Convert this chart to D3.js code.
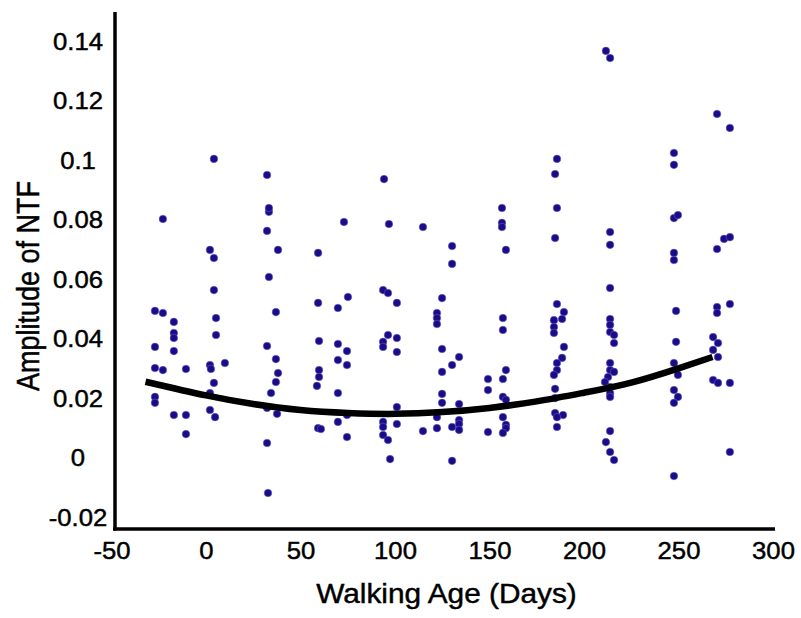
<!DOCTYPE html>
<html>
<head>
<meta charset="utf-8">
<script src="https://cdn.jsdelivr.net/npm/d3@7"></script>
<style>
  body { margin: 0; background: #fff; }
  svg text { font-family: "Liberation Sans", Arial, Helvetica, sans-serif; fill: #000; stroke: #000; stroke-width: 0.45px; }
</style>
</head>
<body>
<div id="chart"></div>
<script>
// scatter values
const walkingAge = [
  -22.8, -27, -22.8, -27, -27, -22.8, -27, -27,
  -17, -17, -17, -17, -17,
  -10.6, -10.6, -10.6,
  4.2, 2.1, 4.2, 4.2, 5.3, 5.3, 2.1, 2.6, 4.2, 2.1, 2.1, 4.8, 10,
  32.3, 33.3, 33.3, 32.3, 38.1, 33.3, 37, 32.3, 37, 38.1, 37, 34.4, 32.3, 37.6, 32.3, 32.8,
  59.3, 59.3, 59.8, 59.8, 59.8, 58.7, 59.3, 60.8,
  73, 75.1, 69.8, 69.8, 74.6, 69.8, 74.6, 69.8, 74.6, 69.8, 74.6,
  94.2, 96.8, 93.7, 96.3, 101, 96.3, 93.7, 93.7, 101, 101, 101, 93.7, 93.7, 101, 93.7, 96.3, 97.4,
  114.8, 114.8,
  124.9, 122.2, 122.2, 122.2, 124.9, 124.9, 124.9, 124.9, 122.2, 122.2,
  130.2, 130.2, 133.9, 130.2, 133.9, 133.9, 133.9, 130.2, 133.9, 130.2,
  156.6, 156.6, 156.6, 158.7, 157.1, 157.1, 149.2, 149.2, 158.7, 157.1, 157.1, 158.7, 157.1, 158.7, 158.7, 157.1, 149.2,
  185.7, 184.7, 185.7, 184.7, 185.7, 189.4, 184.1, 188.4, 184.1, 184.1, 189.4, 188.4, 185.7, 185.7, 184.1, 184.7, 184.7, 184.7, 188.9, 185.7, 185.7,
  211.6, 213.8, 213.8, 213.8, 213.8, 213.8, 213.8, 213.8, 215.9, 215.9, 213.8, 213.8, 215.9, 212.7, 211.1, 213.8, 213.8, 213.8, 213.8, 211.6, 213.8, 215.9,
  247.6, 247.6, 247.6, 249.7, 247.6, 247.6, 248.7, 248.7, 247.6, 249.7, 247.6, 249.7, 247.6, 247.6,
  270.4, 277.2, 270.4, 274.1, 277.2, 270.4, 270.4, 277.2, 268.3, 270.9, 268.3, 270.9, 268.3, 270.9, 277.2, 277.2
];
const amplitude = [
  0.0800, 0.0491, 0.0484, 0.0370, 0.0299, 0.0292, 0.0202, 0.0182,
  0.0454, 0.0417, 0.0400, 0.0356, 0.0141,
  0.0296, 0.0141, 0.0077,
  0.1002, 0.0696, 0.0669, 0.0561, 0.0467, 0.0410, 0.0309, 0.0296, 0.0249, 0.0215, 0.0158, 0.0134, 0.0316,
  0.0948, 0.0824, 0.0837, 0.0760, 0.0696, 0.0605, 0.0487, 0.0373, 0.0329, 0.0282, 0.0252, 0.0215, 0.0165, 0.0145, 0.0047, -0.0121,
  0.0686, 0.0518, 0.0390, 0.0292, 0.0269, 0.0239, 0.0097, 0.0094,
  0.0790, 0.0538, 0.0501, 0.0380, 0.0356, 0.0326, 0.0309, 0.0215, 0.0141, 0.0118, 0.0067,
  0.0934, 0.0783, 0.0561, 0.0551, 0.0518, 0.0410, 0.0387, 0.0370, 0.0400, 0.0353, 0.0168, 0.0118, 0.0101, 0.0111, 0.0074, 0.0057, -0.0007,
  0.0773, 0.0087,
  0.0534, 0.0484, 0.0467, 0.0447, 0.0363, 0.0286, 0.0212, 0.0182, 0.0134, 0.0097,
  0.0709, 0.0649, 0.0336, 0.0309, 0.0178, 0.0124, 0.0111, 0.0101, 0.0091, -0.0013,
  0.0837, 0.0787, 0.0773, 0.0696, 0.0467, 0.0427, 0.0262, 0.0225, 0.0292, 0.0262, 0.0202, 0.0192, 0.0134, 0.0108, 0.0097, 0.0081, 0.0084,
  0.1002, 0.0951, 0.0837, 0.0736, 0.0514, 0.0487, 0.0460, 0.0464, 0.0437, 0.0417, 0.0370, 0.0333, 0.0316, 0.0292, 0.0276, 0.0229, 0.0198, 0.0148, 0.0141, 0.0134, 0.0101,
  0.1365, 0.1341, 0.0756, 0.0713, 0.0568, 0.0464, 0.0444, 0.0420, 0.0410, 0.0383, 0.0316, 0.0292, 0.0286, 0.0269, 0.0252, 0.0235, 0.0215, 0.0202, 0.0087, 0.0050, 0.0017, -0.0010,
  0.1022, 0.0982, 0.0803, 0.0813, 0.0686, 0.0662, 0.0491, 0.0387, 0.0316, 0.0276, 0.0225, 0.0202, 0.0182, -0.0064,
  0.1153, 0.1106, 0.0699, 0.0733, 0.0739, 0.0504, 0.0484, 0.0514, 0.0403, 0.0383, 0.0360, 0.0336, 0.0259, 0.0249, 0.0249, 0.0017
];

// fitted trend
const fitAge = [-32, 0, 25, 50, 75, 100, 125, 150, 175, 200, 225, 250, 268];
const fitAmplitude = [0.0253, 0.0207, 0.0178, 0.0158, 0.0148, 0.0145, 0.0151, 0.0165, 0.0187, 0.0216, 0.0250, 0.0298, 0.0336];

const xTicks = [-50, 0, 50, 100, 150, 200, 250, 300];
const xTickLabels = ["-50", "0", "50", "100", "150", "200", "250", "300"];
const yTicks = [-0.02, 0, 0.02, 0.04, 0.06, 0.08, 0.1, 0.12, 0.14];
const yTickLabels = ["-0.02", "0", "0.02", "0.04", "0.06", "0.08", "0.1", "0.12", "0.14"];

const width = 801, height = 618;
const axisX = 115, axisY = 529;

const svg = d3.select("#chart").append("svg")
  .attr("width", width)
  .attr("height", height);

const x = d3.scaleLinear().domain([-50, 300]).range([111.5, 773]);
const y = d3.scaleLinear().domain([-0.024, 0.1495]).range([528.4, 12.2]);

// dots
svg.append("g")
  .selectAll("circle")
  .data(d3.zip(walkingAge, amplitude))
  .join("circle")
  .attr("cx", d => x(d[0]))
  .attr("cy", d => y(d[1]))
  .attr("r", 3.8)
  .attr("fill", "#1a0b86")
  .attr("stroke", "#6f67d0")
  .attr("stroke-width", 1)
  .attr("stroke-opacity", 0.5);

// trend line on top
const line = d3.line()
  .x(d => x(d[0]))
  .y(d => y(d[1]))
  .curve(d3.curveNatural);

svg.append("path")
  .datum(d3.zip(fitAge, fitAmplitude))
  .attr("d", line)
  .attr("fill", "none")
  .attr("stroke", "#000")
  .attr("stroke-width", 6.5);

// x axis
const gx = svg.append("g")
  .attr("transform", "translate(0," + axisY + ")")
  .call(d3.axisBottom(x)
    .tickValues(xTicks)
    .tickFormat((d, i) => xTickLabels[i])
    .tickSize(0)
    .tickPadding(12.5));
gx.select(".domain")
  .attr("d", "M" + (axisX - 2) + ",0H" + 775)
  .attr("stroke", "#000")
  .attr("stroke-width", 3.5);
gx.selectAll("text")
  .attr("font-size", 24)
  .attr("font-family", null)
  .attr("transform", "scale(1.07,1)");

// y axis
const gy = svg.append("g")
  .attr("transform", "translate(" + axisX + ",0)")
  .call(d3.axisLeft(y)
    .tickValues(yTicks)
    .tickFormat((d, i) => yTickLabels[i])
    .tickSize(0));
gy.select(".domain")
  .attr("d", "M0,12V" + (axisY + 1.5))
  .attr("stroke", "#000")
  .attr("stroke-width", 3.5);
gy.selectAll("text")
  .attr("font-size", 24)
  .attr("font-family", null)
  .attr("text-anchor", "middle")
  .attr("x", 0)
  .attr("dy", "0.36em")
  .attr("transform", "translate(-37,0) scale(1.07,1)");

// axis titles
svg.append("text")
  .attr("transform", "translate(446.5,603) scale(1.065,1)")
  .attr("text-anchor", "middle")
  .attr("font-size", 28)
  .text("Walking Age (Days)");

svg.append("text")
  .attr("transform", "translate(39,286) rotate(-90) scale(1,1.18)")
  .attr("text-anchor", "middle")
  .attr("font-size", 27)
  .text("Amplitude of NTF");
</script>
</body>
</html>
